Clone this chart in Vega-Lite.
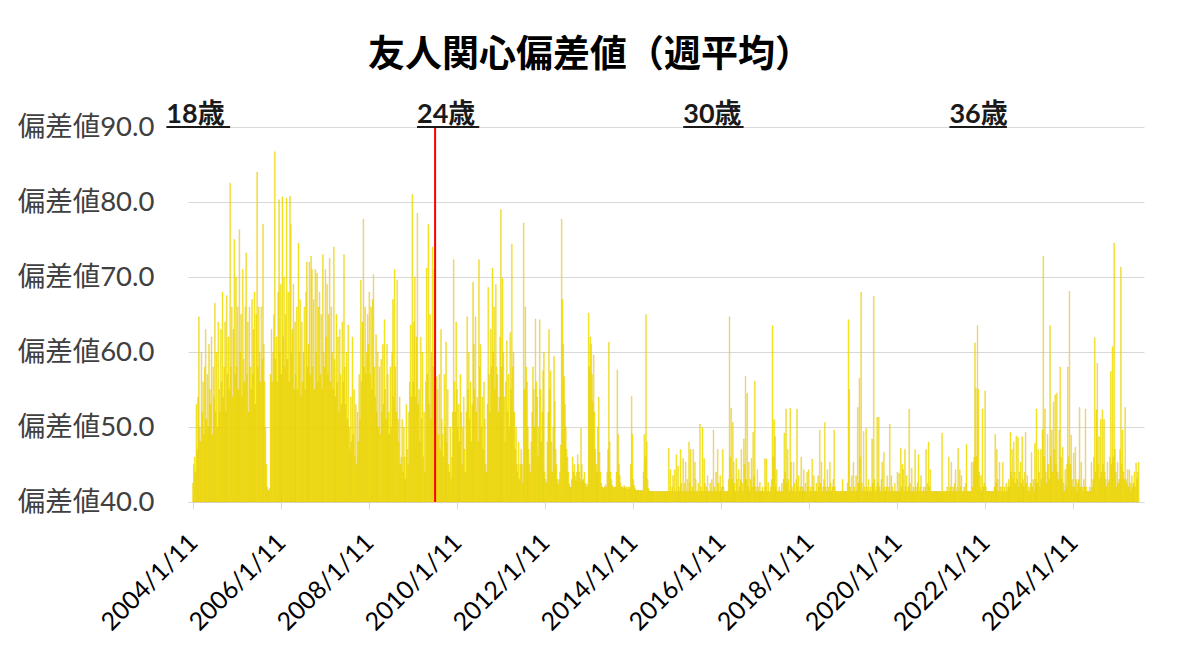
{
  "$schema": "https://vega.github.io/schema/vega-lite/v6.json",
  "width": 956,
  "height": 375,
  "autosize": {"type": "none"},
  "padding": {"left": 188, "top": 127, "right": 56, "bottom": 151},
  "background": "white",
  "title": {
    "text": "友人関心偏差値（週平均）",
    "font": "Noto Sans CJK JP",
    "fontSize": 37,
    "fontWeight": "bold",
    "color": "#000000",
    "anchor": "middle",
    "dx": -76,
    "offset": 26
  },
  "datasets": {
    "ages": [
      {"label": "18歳", "start": "2003-06-04", "end": "2004-11-14"},
      {"label": "24歳", "start": "2009-02-12", "end": "2010-07-13"},
      {"label": "30歳", "start": "2015-03-02", "end": "2016-07-15"},
      {"label": "36歳", "start": "2021-03-19", "end": "2022-07-09"}
    ],
    "marker": [
      {"d": "2009-07-12"}
    ],
    "weekly": [
{"d":"2004-01-11","v":42.5},{"d":"2004-01-18","v":45},{"d":"2004-01-25","v":46},{"d":"2004-02-01","v":44},{"d":"2004-02-08","v":53},{"d":"2004-02-15","v":47},{"d":"2004-02-22","v":54},{"d":"2004-02-29","v":64.7},{"d":"2004-03-07","v":50},{"d":"2004-03-14","v":48},{"d":"2004-03-21","v":60},{"d":"2004-03-28","v":52},{"d":"2004-04-04","v":56},{"d":"2004-04-11","v":49},{"d":"2004-04-18","v":58},{"d":"2004-04-25","v":63},{"d":"2004-05-02","v":51},{"d":"2004-05-09","v":57},{"d":"2004-05-16","v":50},{"d":"2004-05-23","v":61},{"d":"2004-05-30","v":55},{"d":"2004-06-06","v":53},{"d":"2004-06-13","v":62},{"d":"2004-06-20","v":49},{"d":"2004-06-27","v":58},{"d":"2004-07-04","v":54},{"d":"2004-07-11","v":66.5},{"d":"2004-07-18","v":52},{"d":"2004-07-25","v":60},{"d":"2004-08-01","v":50},{"d":"2004-08-08","v":64},{"d":"2004-08-15","v":55},{"d":"2004-08-22","v":52},{"d":"2004-08-29","v":63},{"d":"2004-09-05","v":56},{"d":"2004-09-12","v":68},{"d":"2004-09-19","v":54},{"d":"2004-09-26","v":58},{"d":"2004-10-03","v":64},{"d":"2004-10-10","v":52},{"d":"2004-10-17","v":67.5},{"d":"2004-10-24","v":57},{"d":"2004-10-31","v":62},{"d":"2004-11-07","v":55},{"d":"2004-11-14","v":82.5},{"d":"2004-11-21","v":58},{"d":"2004-11-28","v":66},{"d":"2004-12-05","v":54},{"d":"2004-12-12","v":63},{"d":"2004-12-19","v":75},{"d":"2004-12-26","v":57},
{"d":"2005-01-02","v":70},{"d":"2005-01-09","v":58},{"d":"2005-01-16","v":66},{"d":"2005-01-23","v":55},{"d":"2005-01-30","v":76.3},{"d":"2005-02-06","v":60},{"d":"2005-02-13","v":65},{"d":"2005-02-20","v":54},{"d":"2005-02-27","v":71},{"d":"2005-03-06","v":59},{"d":"2005-03-13","v":56},{"d":"2005-03-20","v":66},{"d":"2005-03-27","v":73.2},{"d":"2005-04-03","v":57},{"d":"2005-04-10","v":64},{"d":"2005-04-17","v":52},{"d":"2005-04-24","v":66},{"d":"2005-05-01","v":58},{"d":"2005-05-08","v":55},{"d":"2005-05-15","v":67},{"d":"2005-05-22","v":57},{"d":"2005-05-29","v":63},{"d":"2005-06-05","v":68},{"d":"2005-06-12","v":53},{"d":"2005-06-19","v":65},{"d":"2005-06-26","v":84},{"d":"2005-07-03","v":58},{"d":"2005-07-10","v":66},{"d":"2005-07-17","v":60},{"d":"2005-07-24","v":56},{"d":"2005-07-31","v":66},{"d":"2005-08-07","v":59},{"d":"2005-08-14","v":77},{"d":"2005-08-21","v":61},{"d":"2005-08-28","v":56},{"d":"2005-09-04","v":50},{"d":"2005-09-11","v":45},{"d":"2005-09-18","v":42},{"d":"2005-09-25","v":41.6},{"d":"2005-10-02","v":41.5},{"d":"2005-10-09","v":41.8},{"d":"2005-10-16","v":57},{"d":"2005-10-23","v":63},{"d":"2005-10-30","v":56},{"d":"2005-11-06","v":60},{"d":"2005-11-13","v":65},{"d":"2005-11-20","v":86.7},{"d":"2005-11-27","v":59},{"d":"2005-12-04","v":62},{"d":"2005-12-11","v":56},{"d":"2005-12-18","v":68},{"d":"2005-12-25","v":80.3},
{"d":"2006-01-01","v":60},{"d":"2006-01-08","v":69},{"d":"2006-01-15","v":57},{"d":"2006-01-22","v":80.7},{"d":"2006-01-29","v":62},{"d":"2006-02-05","v":70},{"d":"2006-02-12","v":58},{"d":"2006-02-19","v":65},{"d":"2006-02-26","v":80.5},{"d":"2006-03-05","v":59},{"d":"2006-03-12","v":68},{"d":"2006-03-19","v":56},{"d":"2006-03-26","v":80.8},{"d":"2006-04-02","v":77},{"d":"2006-04-09","v":60},{"d":"2006-04-16","v":63},{"d":"2006-04-23","v":69},{"d":"2006-04-30","v":55},{"d":"2006-05-07","v":64},{"d":"2006-05-14","v":57},{"d":"2006-05-21","v":66},{"d":"2006-05-28","v":55},{"d":"2006-06-04","v":74.5},{"d":"2006-06-11","v":60},{"d":"2006-06-18","v":67},{"d":"2006-06-25","v":54},{"d":"2006-07-02","v":64},{"d":"2006-07-09","v":56},{"d":"2006-07-16","v":60},{"d":"2006-07-23","v":66},{"d":"2006-07-30","v":55},{"d":"2006-08-06","v":68},{"d":"2006-08-13","v":72},{"d":"2006-08-20","v":58},{"d":"2006-08-27","v":61},{"d":"2006-09-03","v":72},{"d":"2006-09-10","v":57},{"d":"2006-09-17","v":72.8},{"d":"2006-09-24","v":71},{"d":"2006-10-01","v":58},{"d":"2006-10-08","v":67},{"d":"2006-10-15","v":55},{"d":"2006-10-22","v":71},{"d":"2006-10-29","v":60},{"d":"2006-11-05","v":70.5},{"d":"2006-11-12","v":56},{"d":"2006-11-19","v":66},{"d":"2006-11-26","v":68},{"d":"2006-12-03","v":57},{"d":"2006-12-10","v":65},{"d":"2006-12-17","v":55},{"d":"2006-12-24","v":73},{"d":"2006-12-31","v":60},
{"d":"2007-01-07","v":58},{"d":"2007-01-14","v":71},{"d":"2007-01-21","v":62},{"d":"2007-01-28","v":69},{"d":"2007-02-04","v":57},{"d":"2007-02-11","v":65},{"d":"2007-02-18","v":72.5},{"d":"2007-02-25","v":56},{"d":"2007-03-04","v":66},{"d":"2007-03-11","v":60},{"d":"2007-03-18","v":55},{"d":"2007-03-25","v":74},{"d":"2007-04-01","v":59},{"d":"2007-04-08","v":54},{"d":"2007-04-15","v":65},{"d":"2007-04-22","v":56},{"d":"2007-04-29","v":62},{"d":"2007-05-06","v":52},{"d":"2007-05-13","v":63},{"d":"2007-05-20","v":57},{"d":"2007-05-27","v":53},{"d":"2007-06-03","v":64},{"d":"2007-06-10","v":56},{"d":"2007-06-17","v":73},{"d":"2007-06-24","v":58},{"d":"2007-07-01","v":53},{"d":"2007-07-08","v":60},{"d":"2007-07-15","v":51},{"d":"2007-07-22","v":63.6},{"d":"2007-07-29","v":50},{"d":"2007-08-05","v":47},{"d":"2007-08-12","v":54},{"d":"2007-08-19","v":48},{"d":"2007-08-26","v":62},{"d":"2007-09-02","v":49},{"d":"2007-09-09","v":55},{"d":"2007-09-16","v":46},{"d":"2007-09-23","v":53},{"d":"2007-09-30","v":45},{"d":"2007-10-07","v":52},{"d":"2007-10-14","v":48},{"d":"2007-10-21","v":57},{"d":"2007-10-28","v":51},{"d":"2007-11-04","v":69.6},{"d":"2007-11-11","v":56},{"d":"2007-11-18","v":64},{"d":"2007-11-25","v":77.7},{"d":"2007-12-02","v":58},{"d":"2007-12-09","v":66},{"d":"2007-12-16","v":57},{"d":"2007-12-23","v":60},{"d":"2007-12-30","v":65},
{"d":"2008-01-06","v":61},{"d":"2008-01-13","v":68},{"d":"2008-01-20","v":57},{"d":"2008-01-27","v":66},{"d":"2008-02-03","v":55},{"d":"2008-02-10","v":67},{"d":"2008-02-17","v":70.3},{"d":"2008-02-24","v":58},{"d":"2008-03-02","v":54},{"d":"2008-03-09","v":62.3},{"d":"2008-03-16","v":52},{"d":"2008-03-23","v":60},{"d":"2008-03-30","v":50},{"d":"2008-04-06","v":58},{"d":"2008-04-13","v":49},{"d":"2008-04-20","v":59},{"d":"2008-04-27","v":52},{"d":"2008-05-04","v":61},{"d":"2008-05-11","v":53},{"d":"2008-05-18","v":64.3},{"d":"2008-05-25","v":55},{"d":"2008-06-01","v":51},{"d":"2008-06-08","v":61},{"d":"2008-06-15","v":57},{"d":"2008-06-22","v":52},{"d":"2008-06-29","v":49},{"d":"2008-07-06","v":58},{"d":"2008-07-13","v":50},{"d":"2008-07-20","v":60},{"d":"2008-07-27","v":67},{"d":"2008-08-03","v":54},{"d":"2008-08-10","v":71},{"d":"2008-08-17","v":58},{"d":"2008-08-24","v":52},{"d":"2008-08-31","v":69.6},{"d":"2008-09-07","v":51},{"d":"2008-09-14","v":48},{"d":"2008-09-21","v":54},{"d":"2008-09-28","v":45},{"d":"2008-10-05","v":46},{"d":"2008-10-12","v":51},{"d":"2008-10-19","v":44},{"d":"2008-10-26","v":50},{"d":"2008-11-02","v":46},{"d":"2008-11-09","v":43},{"d":"2008-11-16","v":53},{"d":"2008-11-23","v":47},{"d":"2008-11-30","v":45},{"d":"2008-12-07","v":52},{"d":"2008-12-14","v":56},{"d":"2008-12-21","v":63.6},{"d":"2008-12-28","v":54},
{"d":"2009-01-04","v":81},{"d":"2009-01-11","v":56},{"d":"2009-01-18","v":64},{"d":"2009-01-25","v":70},{"d":"2009-02-01","v":54},{"d":"2009-02-08","v":62},{"d":"2009-02-15","v":78.5},{"d":"2009-02-22","v":53},{"d":"2009-03-01","v":55},{"d":"2009-03-08","v":48},{"d":"2009-03-15","v":62},{"d":"2009-03-22","v":51},{"d":"2009-03-29","v":60},{"d":"2009-04-05","v":46},{"d":"2009-04-12","v":52},{"d":"2009-04-19","v":44},{"d":"2009-04-26","v":56},{"d":"2009-05-03","v":71.2},{"d":"2009-05-10","v":57},{"d":"2009-05-17","v":77},{"d":"2009-05-24","v":53},{"d":"2009-05-31","v":65},{"d":"2009-06-07","v":51},{"d":"2009-06-14","v":60},{"d":"2009-06-21","v":74},{"d":"2009-06-28","v":58},{"d":"2009-07-05","v":71},{"d":"2009-07-12","v":54},{"d":"2009-07-19","v":50},{"d":"2009-07-26","v":56.7},{"d":"2009-08-02","v":55},{"d":"2009-08-09","v":49},{"d":"2009-08-16","v":57},{"d":"2009-08-23","v":47},{"d":"2009-08-30","v":63},{"d":"2009-09-06","v":51},{"d":"2009-09-13","v":49},{"d":"2009-09-20","v":46},{"d":"2009-09-27","v":57},{"d":"2009-10-04","v":50},{"d":"2009-10-11","v":61.3},{"d":"2009-10-18","v":48},{"d":"2009-10-25","v":55},{"d":"2009-11-01","v":45},{"d":"2009-11-08","v":44},{"d":"2009-11-15","v":50},{"d":"2009-11-22","v":43},{"d":"2009-11-29","v":46},{"d":"2009-12-06","v":52},{"d":"2009-12-13","v":72.3},{"d":"2009-12-20","v":56},{"d":"2009-12-27","v":52},
{"d":"2010-01-03","v":64},{"d":"2010-01-10","v":55},{"d":"2010-01-17","v":50},{"d":"2010-01-24","v":53},{"d":"2010-01-31","v":48},{"d":"2010-02-07","v":57},{"d":"2010-02-14","v":52},{"d":"2010-02-21","v":45},{"d":"2010-02-28","v":50},{"d":"2010-03-07","v":54},{"d":"2010-03-14","v":47},{"d":"2010-03-21","v":44},{"d":"2010-03-28","v":52},{"d":"2010-04-04","v":64.7},{"d":"2010-04-11","v":55},{"d":"2010-04-18","v":60},{"d":"2010-04-25","v":51},{"d":"2010-05-02","v":56},{"d":"2010-05-09","v":48},{"d":"2010-05-16","v":53},{"d":"2010-05-23","v":69.3},{"d":"2010-05-30","v":61},{"d":"2010-06-06","v":55},{"d":"2010-06-13","v":64.7},{"d":"2010-06-20","v":52},{"d":"2010-06-27","v":54},{"d":"2010-07-04","v":48},{"d":"2010-07-11","v":72.3},{"d":"2010-07-18","v":58},{"d":"2010-07-25","v":61},{"d":"2010-08-01","v":50},{"d":"2010-08-08","v":54},{"d":"2010-08-15","v":47},{"d":"2010-08-22","v":56},{"d":"2010-08-29","v":51},{"d":"2010-09-05","v":45},{"d":"2010-09-12","v":44},{"d":"2010-09-19","v":53},{"d":"2010-09-26","v":68.6},{"d":"2010-10-03","v":57},{"d":"2010-10-10","v":52},{"d":"2010-10-17","v":63},{"d":"2010-10-24","v":58},{"d":"2010-10-31","v":71.2},{"d":"2010-11-07","v":60},{"d":"2010-11-14","v":66},{"d":"2010-11-21","v":55},{"d":"2010-11-28","v":69},{"d":"2010-12-05","v":58},{"d":"2010-12-12","v":57},{"d":"2010-12-19","v":52},{"d":"2010-12-26","v":54},
{"d":"2011-01-02","v":62},{"d":"2011-01-09","v":79},{"d":"2011-01-16","v":58},{"d":"2011-01-23","v":69.8},{"d":"2011-01-30","v":60},{"d":"2011-02-06","v":54},{"d":"2011-02-13","v":48},{"d":"2011-02-20","v":56},{"d":"2011-02-27","v":61.5},{"d":"2011-03-06","v":52},{"d":"2011-03-13","v":57},{"d":"2011-03-20","v":50},{"d":"2011-03-27","v":62.6},{"d":"2011-04-03","v":55},{"d":"2011-04-10","v":74.4},{"d":"2011-04-17","v":58},{"d":"2011-04-24","v":60},{"d":"2011-05-01","v":52},{"d":"2011-05-08","v":47},{"d":"2011-05-15","v":50},{"d":"2011-05-22","v":45},{"d":"2011-05-29","v":44},{"d":"2011-06-05","v":48},{"d":"2011-06-12","v":43},{"d":"2011-06-19","v":45},{"d":"2011-06-26","v":47},{"d":"2011-07-03","v":45},{"d":"2011-07-10","v":42.5},{"d":"2011-07-17","v":77.2},{"d":"2011-07-24","v":55},{"d":"2011-07-31","v":66},{"d":"2011-08-07","v":58},{"d":"2011-08-14","v":56},{"d":"2011-08-21","v":50},{"d":"2011-08-28","v":47},{"d":"2011-09-04","v":45},{"d":"2011-09-11","v":44},{"d":"2011-09-18","v":48},{"d":"2011-09-25","v":52},{"d":"2011-10-02","v":58},{"d":"2011-10-09","v":55},{"d":"2011-10-16","v":50},{"d":"2011-10-23","v":64.4},{"d":"2011-10-30","v":56},{"d":"2011-11-06","v":54},{"d":"2011-11-13","v":46},{"d":"2011-11-20","v":50},{"d":"2011-11-27","v":64.3},{"d":"2011-12-04","v":55},{"d":"2011-12-11","v":48},{"d":"2011-12-18","v":52},{"d":"2011-12-25","v":57.5},
{"d":"2012-01-01","v":60},{"d":"2012-01-08","v":44},{"d":"2012-01-15","v":43},{"d":"2012-01-22","v":42.5},{"d":"2012-01-29","v":48},{"d":"2012-02-05","v":52},{"d":"2012-02-12","v":63},{"d":"2012-02-19","v":55},{"d":"2012-02-26","v":57.5},{"d":"2012-03-04","v":48},{"d":"2012-03-11","v":44},{"d":"2012-03-18","v":50},{"d":"2012-03-25","v":59.4},{"d":"2012-04-01","v":53.4},{"d":"2012-04-08","v":47},{"d":"2012-04-15","v":45},{"d":"2012-04-22","v":43},{"d":"2012-04-29","v":42.4},{"d":"2012-05-06","v":43},{"d":"2012-05-13","v":44},{"d":"2012-05-20","v":47.6},{"d":"2012-05-27","v":77.7},{"d":"2012-06-03","v":67},{"d":"2012-06-10","v":61},{"d":"2012-06-17","v":56.7},{"d":"2012-06-24","v":53},{"d":"2012-07-01","v":50},{"d":"2012-07-08","v":47},{"d":"2012-07-15","v":46},{"d":"2012-07-22","v":44},{"d":"2012-07-29","v":42.4},{"d":"2012-08-05","v":42},{"d":"2012-08-12","v":42},{"d":"2012-08-19","v":43},{"d":"2012-08-26","v":46},{"d":"2012-09-02","v":44},{"d":"2012-09-09","v":45},{"d":"2012-09-16","v":43.5},{"d":"2012-09-23","v":42.8},{"d":"2012-09-30","v":44},{"d":"2012-10-07","v":46.3},{"d":"2012-10-14","v":45},{"d":"2012-10-21","v":44},{"d":"2012-10-28","v":43},{"d":"2012-11-04","v":49.8},{"d":"2012-11-11","v":45},{"d":"2012-11-18","v":42.8},{"d":"2012-11-25","v":43},{"d":"2012-12-02","v":44},{"d":"2012-12-09","v":42.5},{"d":"2012-12-16","v":42},{"d":"2012-12-23","v":42.4},{"d":"2012-12-30","v":42},
{"d":"2013-01-06","v":65.2},{"d":"2013-01-13","v":58},{"d":"2013-01-20","v":62},{"d":"2013-01-27","v":61},{"d":"2013-02-03","v":57},{"d":"2013-02-10","v":53.4},{"d":"2013-02-17","v":59.6},{"d":"2013-02-24","v":52},{"d":"2013-03-03","v":47},{"d":"2013-03-10","v":45},{"d":"2013-03-17","v":44},{"d":"2013-03-24","v":50},{"d":"2013-03-31","v":54},{"d":"2013-04-07","v":46.6},{"d":"2013-04-14","v":44},{"d":"2013-04-21","v":42.5},{"d":"2013-04-28","v":42},{"d":"2013-05-05","v":42},{"d":"2013-05-12","v":41.8},{"d":"2013-05-19","v":42},{"d":"2013-05-26","v":42.3},{"d":"2013-06-02","v":42},{"d":"2013-06-09","v":44},{"d":"2013-06-16","v":47},{"d":"2013-06-23","v":61.3},{"d":"2013-06-30","v":48},{"d":"2013-07-07","v":44},{"d":"2013-07-14","v":43},{"d":"2013-07-21","v":42.2},{"d":"2013-07-28","v":42},{"d":"2013-08-04","v":41.8},{"d":"2013-08-11","v":42},{"d":"2013-08-18","v":42},{"d":"2013-08-25","v":44},{"d":"2013-09-01","v":57.6},{"d":"2013-09-08","v":49},{"d":"2013-09-15","v":45},{"d":"2013-09-22","v":43.5},{"d":"2013-09-29","v":42.5},{"d":"2013-10-06","v":42},{"d":"2013-10-13","v":42},{"d":"2013-10-20","v":41.8},{"d":"2013-10-27","v":42.2},{"d":"2013-11-03","v":42},{"d":"2013-11-10","v":41.8},{"d":"2013-11-17","v":42},{"d":"2013-11-24","v":41.7},{"d":"2013-12-01","v":42},{"d":"2013-12-08","v":41.7},{"d":"2013-12-15","v":42},{"d":"2013-12-22","v":45},{"d":"2013-12-29","v":54.1},
{"d":"2014-01-05","v":49},{"d":"2014-01-12","v":43},{"d":"2014-01-19","v":42.2},{"d":"2014-01-26","v":41.8},{"d":"2014-02-02","v":41.6},{"d":"2014-02-09","v":41.5},{"d":"2014-02-16","v":41.5},{"d":"2014-02-23","v":41.6},{"d":"2014-03-02","v":41.5},{"d":"2014-03-09","v":41.5},{"d":"2014-03-16","v":41.5},{"d":"2014-03-23","v":41.6},{"d":"2014-03-30","v":41.5},{"d":"2014-04-06","v":44},{"d":"2014-04-13","v":49},{"d":"2014-04-20","v":46},{"d":"2014-04-27","v":65},{"d":"2014-05-04","v":48},{"d":"2014-05-11","v":43},{"d":"2014-05-18","v":41.8},{"d":"2014-05-25","v":41.5},{"d":"2014-06-01","v":41.4},{"d":"2014-06-08","v":41.4},{"d":"2014-06-15","v":41.4},{"d":"2014-06-22","v":41.4},{"d":"2014-06-29","v":41.4},{"d":"2014-07-06","v":41.4},{"d":"2014-07-13","v":41.4},{"d":"2014-07-20","v":41.4},{"d":"2014-07-27","v":41.4},{"d":"2014-08-03","v":41.4},{"d":"2014-08-10","v":41.4},{"d":"2014-08-17","v":41.4},{"d":"2014-08-24","v":41.4},{"d":"2014-08-31","v":41.4},{"d":"2014-09-07","v":41.4},{"d":"2014-09-14","v":41.4},{"d":"2014-09-21","v":41.4},{"d":"2014-09-28","v":41.4},{"d":"2014-10-05","v":41.4},{"d":"2014-10-12","v":41.4},{"d":"2014-10-19","v":41.4},{"d":"2014-10-26","v":41.4},{"d":"2014-11-02","v":47.2},{"d":"2014-11-09","v":41.4},{"d":"2014-11-16","v":44.3},{"d":"2014-11-23","v":41.4},{"d":"2014-11-30","v":42},{"d":"2014-12-07","v":43.5},{"d":"2014-12-14","v":41.4},{"d":"2014-12-21","v":44.3},{"d":"2014-12-28","v":41.4},
{"d":"2015-01-04","v":46.3},{"d":"2015-01-11","v":41.4},{"d":"2015-01-18","v":44.8},{"d":"2015-01-25","v":42},{"d":"2015-02-01","v":41.4},{"d":"2015-02-08","v":47},{"d":"2015-02-15","v":42.5},{"d":"2015-02-22","v":41.4},{"d":"2015-03-01","v":45.8},{"d":"2015-03-08","v":41.4},{"d":"2015-03-15","v":42.5},{"d":"2015-03-22","v":45.3},{"d":"2015-03-29","v":41.4},{"d":"2015-04-05","v":43},{"d":"2015-04-12","v":41.4},{"d":"2015-04-19","v":48},{"d":"2015-04-26","v":42.5},{"d":"2015-05-03","v":47},{"d":"2015-05-10","v":41.4},{"d":"2015-05-17","v":42},{"d":"2015-05-24","v":47},{"d":"2015-05-31","v":41.4},{"d":"2015-06-07","v":45.3},{"d":"2015-06-14","v":43},{"d":"2015-06-21","v":41.4},{"d":"2015-06-28","v":41.4},{"d":"2015-07-05","v":42.5},{"d":"2015-07-12","v":41.4},{"d":"2015-07-19","v":50.4},{"d":"2015-07-26","v":42},{"d":"2015-08-02","v":41.4},{"d":"2015-08-09","v":49.9},{"d":"2015-08-16","v":41.4},{"d":"2015-08-23","v":45.8},{"d":"2015-08-30","v":42.5},{"d":"2015-09-06","v":41.4},{"d":"2015-09-13","v":42},{"d":"2015-09-20","v":43.5},{"d":"2015-09-27","v":41.4},{"d":"2015-10-04","v":41.4},{"d":"2015-10-11","v":42.5},{"d":"2015-10-18","v":41.4},{"d":"2015-10-25","v":43},{"d":"2015-11-01","v":41.4},{"d":"2015-11-08","v":49.6},{"d":"2015-11-15","v":42},{"d":"2015-11-22","v":41.4},{"d":"2015-11-29","v":44},{"d":"2015-12-06","v":41.4},{"d":"2015-12-13","v":47},{"d":"2015-12-20","v":42.5},{"d":"2015-12-27","v":41.4},
{"d":"2016-01-03","v":43.5},{"d":"2016-01-10","v":41.4},{"d":"2016-01-17","v":42},{"d":"2016-01-24","v":47},{"d":"2016-01-31","v":42},{"d":"2016-02-07","v":41.4},{"d":"2016-02-14","v":41.4},{"d":"2016-02-21","v":41.4},{"d":"2016-02-28","v":41.4},{"d":"2016-03-06","v":41.4},{"d":"2016-03-13","v":43},{"d":"2016-03-20","v":64.7},{"d":"2016-03-27","v":46},{"d":"2016-04-03","v":52.5},{"d":"2016-04-10","v":43},{"d":"2016-04-17","v":50.6},{"d":"2016-04-24","v":45.3},{"d":"2016-05-01","v":42.5},{"d":"2016-05-08","v":41.4},{"d":"2016-05-15","v":45.8},{"d":"2016-05-22","v":43},{"d":"2016-05-29","v":41.4},{"d":"2016-06-05","v":44.3},{"d":"2016-06-12","v":42},{"d":"2016-06-19","v":43},{"d":"2016-06-26","v":47},{"d":"2016-07-03","v":42.5},{"d":"2016-07-10","v":41.4},{"d":"2016-07-17","v":48.4},{"d":"2016-07-24","v":45},{"d":"2016-07-31","v":56.8},{"d":"2016-08-07","v":43},{"d":"2016-08-14","v":54.5},{"d":"2016-08-21","v":42},{"d":"2016-08-28","v":45.3},{"d":"2016-09-04","v":41.4},{"d":"2016-09-11","v":43},{"d":"2016-09-18","v":45.8},{"d":"2016-09-25","v":42},{"d":"2016-10-02","v":49.3},{"d":"2016-10-09","v":43.5},{"d":"2016-10-16","v":56.1},{"d":"2016-10-23","v":42},{"d":"2016-10-30","v":41.4},{"d":"2016-11-06","v":44.3},{"d":"2016-11-13","v":42},{"d":"2016-11-20","v":41.4},{"d":"2016-11-27","v":42.6},{"d":"2016-12-04","v":41.4},{"d":"2016-12-11","v":41.4},{"d":"2016-12-18","v":42},{"d":"2016-12-25","v":41.4},
{"d":"2017-01-01","v":41.4},{"d":"2017-01-08","v":45.8},{"d":"2017-01-15","v":42},{"d":"2017-01-22","v":45.7},{"d":"2017-01-29","v":41.4},{"d":"2017-02-05","v":42.6},{"d":"2017-02-12","v":41.4},{"d":"2017-02-19","v":41.4},{"d":"2017-02-26","v":42},{"d":"2017-03-05","v":43},{"d":"2017-03-12","v":63.5},{"d":"2017-03-19","v":46},{"d":"2017-03-26","v":51},{"d":"2017-04-02","v":48.7},{"d":"2017-04-09","v":42},{"d":"2017-04-16","v":44.3},{"d":"2017-04-23","v":41.4},{"d":"2017-04-30","v":41.4},{"d":"2017-05-07","v":42},{"d":"2017-05-14","v":41.4},{"d":"2017-05-21","v":41.4},{"d":"2017-05-28","v":42.5},{"d":"2017-06-04","v":41.4},{"d":"2017-06-11","v":43},{"d":"2017-06-18","v":49.2},{"d":"2017-06-25","v":44},{"d":"2017-07-02","v":52.4},{"d":"2017-07-09","v":42.5},{"d":"2017-07-16","v":47},{"d":"2017-07-23","v":43},{"d":"2017-07-30","v":41.4},{"d":"2017-08-06","v":52.5},{"d":"2017-08-13","v":45.3},{"d":"2017-08-20","v":42},{"d":"2017-08-27","v":41.4},{"d":"2017-09-03","v":45.3},{"d":"2017-09-10","v":42.5},{"d":"2017-09-17","v":41.4},{"d":"2017-09-24","v":43},{"d":"2017-10-01","v":52.4},{"d":"2017-10-08","v":42},{"d":"2017-10-15","v":43.5},{"d":"2017-10-22","v":41.4},{"d":"2017-10-29","v":42},{"d":"2017-11-05","v":46},{"d":"2017-11-12","v":41.4},{"d":"2017-11-19","v":42},{"d":"2017-11-26","v":44.3},{"d":"2017-12-03","v":41.4},{"d":"2017-12-10","v":42.5},{"d":"2017-12-17","v":41.4},{"d":"2017-12-24","v":44},{"d":"2017-12-31","v":42},
{"d":"2018-01-07","v":44.3},{"d":"2018-01-14","v":41.4},{"d":"2018-01-21","v":42},{"d":"2018-01-28","v":41.4},{"d":"2018-02-04","v":45.7},{"d":"2018-02-11","v":42},{"d":"2018-02-18","v":43.5},{"d":"2018-02-25","v":41.4},{"d":"2018-03-04","v":41.4},{"d":"2018-03-11","v":42.5},{"d":"2018-03-18","v":41.4},{"d":"2018-03-25","v":43.5},{"d":"2018-04-01","v":42},{"d":"2018-04-08","v":49.6},{"d":"2018-04-15","v":42.5},{"d":"2018-04-22","v":45.3},{"d":"2018-04-29","v":41.4},{"d":"2018-05-06","v":42},{"d":"2018-05-13","v":43},{"d":"2018-05-20","v":50.6},{"d":"2018-05-27","v":42},{"d":"2018-06-03","v":41.4},{"d":"2018-06-10","v":44.3},{"d":"2018-06-17","v":42},{"d":"2018-06-24","v":41.4},{"d":"2018-07-01","v":45.3},{"d":"2018-07-08","v":42.5},{"d":"2018-07-15","v":41.4},{"d":"2018-07-22","v":42},{"d":"2018-07-29","v":43},{"d":"2018-08-05","v":49.6},{"d":"2018-08-12","v":42},{"d":"2018-08-19","v":41.4},{"d":"2018-08-26","v":41.4},{"d":"2018-09-02","v":41.4},{"d":"2018-09-09","v":41.4},{"d":"2018-09-16","v":41.4},{"d":"2018-09-23","v":41.4},{"d":"2018-09-30","v":41.4},{"d":"2018-10-07","v":41.4},{"d":"2018-10-14","v":43},{"d":"2018-10-21","v":41.4},{"d":"2018-10-28","v":41.4},{"d":"2018-11-04","v":41.4},{"d":"2018-11-11","v":41.4},{"d":"2018-11-18","v":41.4},{"d":"2018-11-25","v":42.5},{"d":"2018-12-02","v":64.3},{"d":"2018-12-09","v":55},{"d":"2018-12-16","v":42},{"d":"2018-12-23","v":41.4},{"d":"2018-12-30","v":43.5},
{"d":"2019-01-06","v":41.4},{"d":"2019-01-13","v":45.3},{"d":"2019-01-20","v":42},{"d":"2019-01-27","v":41.4},{"d":"2019-02-03","v":43.5},{"d":"2019-02-10","v":41.4},{"d":"2019-02-17","v":52.6},{"d":"2019-02-24","v":42.5},{"d":"2019-03-03","v":56.5},{"d":"2019-03-10","v":46},{"d":"2019-03-17","v":68},{"d":"2019-03-24","v":42.5},{"d":"2019-03-31","v":41.4},{"d":"2019-04-07","v":49.4},{"d":"2019-04-14","v":42},{"d":"2019-04-21","v":41.4},{"d":"2019-04-28","v":49.8},{"d":"2019-05-05","v":42},{"d":"2019-05-12","v":41.4},{"d":"2019-05-19","v":43},{"d":"2019-05-26","v":41.4},{"d":"2019-06-02","v":42},{"d":"2019-06-09","v":41.4},{"d":"2019-06-16","v":48.4},{"d":"2019-06-23","v":42.5},{"d":"2019-06-30","v":67.4},{"d":"2019-07-07","v":43},{"d":"2019-07-14","v":41.4},{"d":"2019-07-21","v":42},{"d":"2019-07-28","v":51.3},{"d":"2019-08-04","v":42.5},{"d":"2019-08-11","v":51.3},{"d":"2019-08-18","v":42},{"d":"2019-08-25","v":41.4},{"d":"2019-09-01","v":43},{"d":"2019-09-08","v":45.3},{"d":"2019-09-15","v":41.4},{"d":"2019-09-22","v":46.6},{"d":"2019-09-29","v":42},{"d":"2019-10-06","v":41.4},{"d":"2019-10-13","v":42},{"d":"2019-10-20","v":43.5},{"d":"2019-10-27","v":41.4},{"d":"2019-11-03","v":42},{"d":"2019-11-10","v":50.4},{"d":"2019-11-17","v":41.4},{"d":"2019-11-24","v":43.5},{"d":"2019-12-01","v":42},{"d":"2019-12-08","v":41.4},{"d":"2019-12-15","v":41.4},{"d":"2019-12-22","v":42.5},{"d":"2019-12-29","v":41.4},
{"d":"2020-01-05","v":41.4},{"d":"2020-01-12","v":44},{"d":"2020-01-19","v":41.4},{"d":"2020-01-26","v":43.8},{"d":"2020-02-02","v":41.4},{"d":"2020-02-09","v":47.2},{"d":"2020-02-16","v":42},{"d":"2020-02-23","v":45},{"d":"2020-03-01","v":44.3},{"d":"2020-03-08","v":41.4},{"d":"2020-03-15","v":47},{"d":"2020-03-22","v":42},{"d":"2020-03-29","v":43.5},{"d":"2020-04-05","v":41.4},{"d":"2020-04-12","v":42},{"d":"2020-04-19","v":52.4},{"d":"2020-04-26","v":42.5},{"d":"2020-05-03","v":41.4},{"d":"2020-05-10","v":44.5},{"d":"2020-05-17","v":41.4},{"d":"2020-05-24","v":42},{"d":"2020-05-31","v":41.4},{"d":"2020-06-07","v":47},{"d":"2020-06-14","v":42},{"d":"2020-06-21","v":41.4},{"d":"2020-06-28","v":42.5},{"d":"2020-07-05","v":46.3},{"d":"2020-07-12","v":41.4},{"d":"2020-07-19","v":42},{"d":"2020-07-26","v":43.5},{"d":"2020-08-02","v":41.4},{"d":"2020-08-09","v":41.4},{"d":"2020-08-16","v":42},{"d":"2020-08-23","v":41.4},{"d":"2020-08-30","v":42},{"d":"2020-09-06","v":47},{"d":"2020-09-13","v":41.4},{"d":"2020-09-20","v":42.5},{"d":"2020-09-27","v":48},{"d":"2020-10-04","v":42},{"d":"2020-10-11","v":44.3},{"d":"2020-10-18","v":41.4},{"d":"2020-10-25","v":41.4},{"d":"2020-11-01","v":41.4},{"d":"2020-11-08","v":41.4},{"d":"2020-11-15","v":41.4},{"d":"2020-11-22","v":41.4},{"d":"2020-11-29","v":41.4},{"d":"2020-12-06","v":41.4},{"d":"2020-12-13","v":41.4},{"d":"2020-12-20","v":41.4},{"d":"2020-12-27","v":41.4},
{"d":"2021-01-03","v":41.4},{"d":"2021-01-10","v":41.4},{"d":"2021-01-17","v":49.2},{"d":"2021-01-24","v":41.4},{"d":"2021-01-31","v":41.4},{"d":"2021-02-07","v":41.4},{"d":"2021-02-14","v":41.4},{"d":"2021-02-21","v":41.4},{"d":"2021-02-28","v":42},{"d":"2021-03-07","v":41.4},{"d":"2021-03-14","v":46},{"d":"2021-03-21","v":41.4},{"d":"2021-03-28","v":42},{"d":"2021-04-04","v":45.3},{"d":"2021-04-11","v":41.4},{"d":"2021-04-18","v":42},{"d":"2021-04-25","v":41.4},{"d":"2021-05-02","v":42.5},{"d":"2021-05-09","v":44.3},{"d":"2021-05-16","v":41.4},{"d":"2021-05-23","v":42},{"d":"2021-05-30","v":47.2},{"d":"2021-06-06","v":41.4},{"d":"2021-06-13","v":44.3},{"d":"2021-06-20","v":42},{"d":"2021-06-27","v":43.5},{"d":"2021-07-04","v":41.4},{"d":"2021-07-11","v":41.4},{"d":"2021-07-18","v":42},{"d":"2021-07-25","v":41.4},{"d":"2021-08-01","v":42.5},{"d":"2021-08-08","v":47.7},{"d":"2021-08-15","v":41.4},{"d":"2021-08-22","v":41.4},{"d":"2021-08-29","v":41.4},{"d":"2021-09-05","v":41.4},{"d":"2021-09-12","v":41.4},{"d":"2021-09-19","v":45.3},{"d":"2021-09-26","v":42},{"d":"2021-10-03","v":45.3},{"d":"2021-10-10","v":46},{"d":"2021-10-17","v":61.2},{"d":"2021-10-24","v":55.2},{"d":"2021-10-31","v":46},{"d":"2021-11-07","v":63.5},{"d":"2021-11-14","v":55},{"d":"2021-11-21","v":44},{"d":"2021-11-28","v":42},{"d":"2021-12-05","v":43.5},{"d":"2021-12-12","v":41.4},{"d":"2021-12-19","v":52.4},{"d":"2021-12-26","v":42},
{"d":"2022-01-02","v":42.5},{"d":"2022-01-09","v":54.8},{"d":"2022-01-16","v":42},{"d":"2022-01-23","v":41.4},{"d":"2022-01-30","v":41.4},{"d":"2022-02-06","v":41.4},{"d":"2022-02-13","v":41.4},{"d":"2022-02-20","v":41.4},{"d":"2022-02-27","v":41.4},{"d":"2022-03-06","v":41.4},{"d":"2022-03-13","v":41.4},{"d":"2022-03-20","v":41.4},{"d":"2022-03-27","v":42},{"d":"2022-04-03","v":49},{"d":"2022-04-10","v":42.5},{"d":"2022-04-17","v":47},{"d":"2022-04-24","v":43},{"d":"2022-05-01","v":41.4},{"d":"2022-05-08","v":45.3},{"d":"2022-05-15","v":42},{"d":"2022-05-22","v":41.4},{"d":"2022-05-29","v":42},{"d":"2022-06-05","v":45.3},{"d":"2022-06-12","v":41.4},{"d":"2022-06-19","v":42},{"d":"2022-06-26","v":41.4},{"d":"2022-07-03","v":42.5},{"d":"2022-07-10","v":41.4},{"d":"2022-07-17","v":42},{"d":"2022-07-24","v":43},{"d":"2022-07-31","v":42},{"d":"2022-08-07","v":49.3},{"d":"2022-08-14","v":44},{"d":"2022-08-21","v":47},{"d":"2022-08-28","v":43},{"d":"2022-09-04","v":48},{"d":"2022-09-11","v":44},{"d":"2022-09-18","v":42.5},{"d":"2022-09-25","v":48.8},{"d":"2022-10-02","v":43},{"d":"2022-10-09","v":48.6},{"d":"2022-10-16","v":42},{"d":"2022-10-23","v":44},{"d":"2022-10-30","v":45.3},{"d":"2022-11-06","v":42.5},{"d":"2022-11-13","v":48.7},{"d":"2022-11-20","v":43},{"d":"2022-11-27","v":42},{"d":"2022-12-04","v":44},{"d":"2022-12-11","v":49.3},{"d":"2022-12-18","v":42.5},{"d":"2022-12-25","v":43.5},
{"d":"2023-01-01","v":41.4},{"d":"2023-01-08","v":42},{"d":"2023-01-15","v":41.4},{"d":"2023-01-22","v":42.5},{"d":"2023-01-29","v":46.6},{"d":"2023-02-05","v":42},{"d":"2023-02-12","v":43},{"d":"2023-02-19","v":41.4},{"d":"2023-02-26","v":47.8},{"d":"2023-03-05","v":43},{"d":"2023-03-12","v":52.4},{"d":"2023-03-19","v":42.5},{"d":"2023-03-26","v":47},{"d":"2023-04-02","v":44},{"d":"2023-04-09","v":42},{"d":"2023-04-16","v":47},{"d":"2023-04-23","v":43},{"d":"2023-04-30","v":49.6},{"d":"2023-05-07","v":72.8},{"d":"2023-05-14","v":46},{"d":"2023-05-21","v":52.4},{"d":"2023-05-28","v":44},{"d":"2023-06-04","v":42.5},{"d":"2023-06-11","v":49},{"d":"2023-06-18","v":45},{"d":"2023-06-25","v":43},{"d":"2023-07-02","v":63.5},{"d":"2023-07-09","v":46},{"d":"2023-07-16","v":49.6},{"d":"2023-07-23","v":44},{"d":"2023-07-30","v":53.3},{"d":"2023-08-06","v":47},{"d":"2023-08-13","v":54.3},{"d":"2023-08-20","v":45},{"d":"2023-08-27","v":54.5},{"d":"2023-09-03","v":44},{"d":"2023-09-10","v":43},{"d":"2023-09-17","v":49.6},{"d":"2023-09-24","v":58},{"d":"2023-10-01","v":46},{"d":"2023-10-08","v":43},{"d":"2023-10-15","v":47.3},{"d":"2023-10-22","v":42.5},{"d":"2023-10-29","v":41.4},{"d":"2023-11-05","v":44.3},{"d":"2023-11-12","v":42},{"d":"2023-11-19","v":45},{"d":"2023-11-26","v":58},{"d":"2023-12-03","v":46},{"d":"2023-12-10","v":68.1},{"d":"2023-12-17","v":45},{"d":"2023-12-24","v":48.9},{"d":"2023-12-31","v":43},
{"d":"2024-01-07","v":42},{"d":"2024-01-14","v":46.5},{"d":"2024-01-21","v":42},{"d":"2024-01-28","v":47.3},{"d":"2024-02-04","v":43},{"d":"2024-02-11","v":41.4},{"d":"2024-02-18","v":42.5},{"d":"2024-02-25","v":43},{"d":"2024-03-03","v":52.6},{"d":"2024-03-10","v":42},{"d":"2024-03-17","v":45.3},{"d":"2024-03-24","v":42},{"d":"2024-03-31","v":41.4},{"d":"2024-04-07","v":43},{"d":"2024-04-14","v":42},{"d":"2024-04-21","v":52.4},{"d":"2024-04-28","v":42},{"d":"2024-05-05","v":41.4},{"d":"2024-05-12","v":41.4},{"d":"2024-05-19","v":41.4},{"d":"2024-05-26","v":42},{"d":"2024-06-02","v":41.4},{"d":"2024-06-09","v":45.3},{"d":"2024-06-16","v":42},{"d":"2024-06-23","v":43},{"d":"2024-06-30","v":46},{"d":"2024-07-07","v":61.9},{"d":"2024-07-14","v":44},{"d":"2024-07-21","v":52.3},{"d":"2024-07-28","v":58.5},{"d":"2024-08-04","v":45},{"d":"2024-08-11","v":48.7},{"d":"2024-08-18","v":43},{"d":"2024-08-25","v":51},{"d":"2024-09-01","v":44},{"d":"2024-09-08","v":52.3},{"d":"2024-09-15","v":45},{"d":"2024-09-22","v":51},{"d":"2024-09-29","v":44},{"d":"2024-10-06","v":43},{"d":"2024-10-13","v":42},{"d":"2024-10-20","v":45.3},{"d":"2024-10-27","v":42.5},{"d":"2024-11-03","v":43},{"d":"2024-11-10","v":46},{"d":"2024-11-17","v":57.4},{"d":"2024-11-24","v":45},{"d":"2024-12-01","v":60.7},{"d":"2024-12-08","v":46},{"d":"2024-12-15","v":74.5},{"d":"2024-12-22","v":47},{"d":"2024-12-29","v":44},
{"d":"2025-01-05","v":42},{"d":"2025-01-12","v":45.3},{"d":"2025-01-19","v":42.5},{"d":"2025-01-26","v":43},{"d":"2025-02-02","v":47},{"d":"2025-02-09","v":71.3},{"d":"2025-02-16","v":45},{"d":"2025-02-23","v":49.6},{"d":"2025-03-02","v":44},{"d":"2025-03-09","v":43},{"d":"2025-03-16","v":52.6},{"d":"2025-03-23","v":43},{"d":"2025-03-30","v":42.5},{"d":"2025-04-06","v":44.3},{"d":"2025-04-13","v":42},{"d":"2025-04-20","v":44.3},{"d":"2025-04-27","v":42.5},{"d":"2025-05-04","v":41.4},{"d":"2025-05-11","v":43.5},{"d":"2025-05-18","v":42},{"d":"2025-05-25","v":42.5},{"d":"2025-06-01","v":44},{"d":"2025-06-08","v":42},{"d":"2025-06-15","v":45.2},{"d":"2025-06-22","v":43},{"d":"2025-06-29","v":44},{"d":"2025-07-06","v":45.3}
    ]
  },
  "layer": [
    {
      "data": {"name": "weekly"},
      "mark": {"type": "bar", "width": 0.85, "fill": "#FFFF00", "stroke": "#D2A000", "strokeWidth": 0.28},
      "encoding": {
        "x": {
          "field": "d",
          "type": "temporal",
          "scale": {
            "type": "utc",
            "domain": [
              {"year": 2004, "month": 1, "date": 11, "utc": true},
              {"year": 2025, "month": 7, "date": 9, "utc": true}
            ]
          },
          "axis": {
            "title": null,
            "grid": false,
            "values": [
              {"year": 2004, "month": 1, "date": 11, "utc": true},
              {"year": 2006, "month": 1, "date": 11, "utc": true},
              {"year": 2008, "month": 1, "date": 11, "utc": true},
              {"year": 2010, "month": 1, "date": 11, "utc": true},
              {"year": 2012, "month": 1, "date": 11, "utc": true},
              {"year": 2014, "month": 1, "date": 11, "utc": true},
              {"year": 2016, "month": 1, "date": 11, "utc": true},
              {"year": 2018, "month": 1, "date": 11, "utc": true},
              {"year": 2020, "month": 1, "date": 11, "utc": true},
              {"year": 2022, "month": 1, "date": 11, "utc": true},
              {"year": 2024, "month": 1, "date": 11, "utc": true}
            ],
            "labelExpr": "utcFormat(datum.value, '%Y/%-m/%-d')",
            "labelAngle": -45,
            "labelAlign": "right",
            "labelBaseline": "middle",
            "labelFont": "Lato",
            "labelFontSize": 25,
            "labelColor": "#000000",
            "labelPadding": 29,
            "labelOverlap": false,
            "labelFlush": false,
            "labelBound": false,
            "tickSize": 7,
            "tickColor": "#D9D9D9",
            "domainColor": "#D9D9D9"
          }
        },
        "y": {
          "field": "v",
          "type": "quantitative",
          "scale": {"domain": [40, 90], "nice": false, "zero": false},
          "axis": {
            "title": null,
            "values": [40, 50, 60, 70, 80, 90],
            "labelExpr": "'偏差値' + format(datum.value, '.1f')",
            "labelFont": "Lato, Noto Sans CJK JP",
            "labelFontSize": 27.5,
            "labelColor": "#404040",
            "labelPadding": 34,
            "ticks": false,
            "domain": false,
            "grid": true,
            "gridColor": "#D9D9D9",
            "gridWidth": 1.2
          }
        },
        "y2": {"datum": 40}
      }
    },
    {
      "data": {"name": "marker"},
      "mark": {"type": "rule", "color": "#FF0000", "strokeWidth": 2},
      "encoding": {
        "x": {"field": "d", "type": "temporal"},
        "y": {"datum": 90},
        "y2": {"datum": 40}
      }
    },
    {
      "data": {"name": "ages"},
      "mark": {"type": "rule", "color": "#1A1A1A", "strokeWidth": 2},
      "encoding": {
        "x": {"field": "start", "type": "temporal"},
        "x2": {"field": "end"},
        "y": {"datum": 90}
      }
    },
    {
      "data": {"name": "ages"},
      "mark": {
        "type": "text",
        "align": "left",
        "baseline": "alphabetic",
        "dy": -4,
        "font": "Lato, Noto Sans CJK JP",
        "fontSize": 27,
        "fontWeight": "bold",
        "color": "#1A1A1A"
      },
      "encoding": {
        "x": {"field": "start", "type": "temporal"},
        "y": {"datum": 90},
        "text": {"field": "label"}
      }
    }
  ],
  "config": {
    "view": {"stroke": null},
    "font": "Lato, Noto Sans CJK JP"
  }
}
